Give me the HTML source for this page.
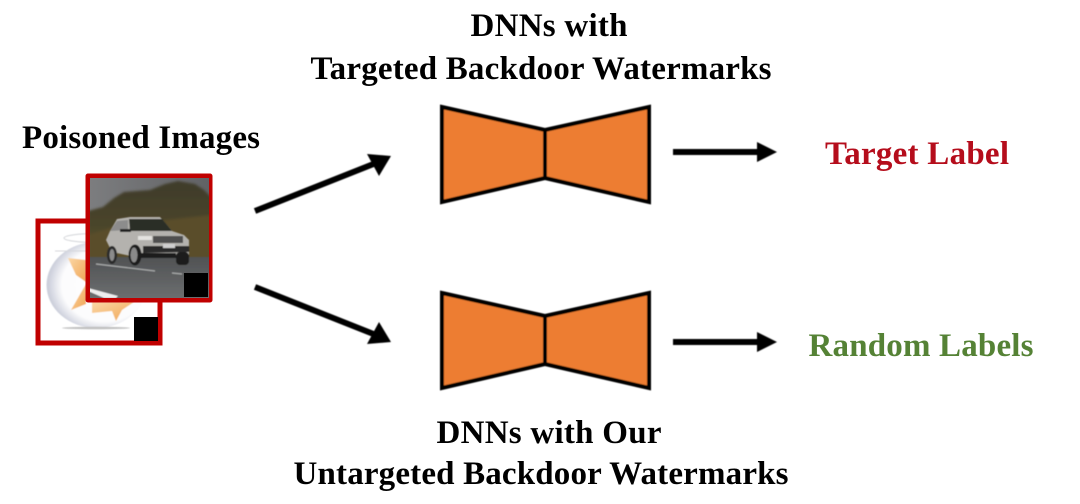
<!DOCTYPE html>
<html><head><meta charset="utf-8"><style>html,body{margin:0;padding:0;background:#fff}svg{display:block}text{font-family:"Liberation Serif",serif;font-weight:bold;font-size:33px;text-anchor:middle}</style></head>
<body>
<svg width="1080" height="504" viewBox="0 0 1080 504" xmlns="http://www.w3.org/2000/svg">
<defs>
<filter id="b" x="-5%" y="-5%" width="110%" height="110%"><feGaussianBlur stdDeviation="0.6"/></filter>
<filter id="b2" x="-10%" y="-10%" width="120%" height="120%"><feGaussianBlur stdDeviation="1.4"/></filter>
<filter id="s"><feGaussianBlur stdDeviation="0.4"/></filter>
<filter id="t" x="-2%" y="-10%" width="104%" height="120%"><feGaussianBlur stdDeviation="0.35"/></filter>
<clipPath id="cf"><rect x="90" y="178" width="119" height="120"/></clipPath>
<linearGradient id="sky" x1="0" x2="1" y1="0" y2="0"><stop offset="0" stop-color="#7c7d7f"/><stop offset="1" stop-color="#616265"/></linearGradient>
<linearGradient id="grass" x1="0" x2="0" y1="0" y2="1"><stop offset="0" stop-color="#3f3b2a"/><stop offset=".55" stop-color="#4a452b"/><stop offset="1" stop-color="#6b5a33"/></linearGradient>
<linearGradient id="road" x1="0" x2="0" y1="0" y2="1"><stop offset="0" stop-color="#505254"/><stop offset="1" stop-color="#6d6f70"/></linearGradient>
<radialGradient id="glass" cx=".58" cy=".5" r=".56"><stop offset="0" stop-color="#fff"/><stop offset=".76" stop-color="#fcfcfd"/><stop offset="1" stop-color="#cdd0dc"/></radialGradient>
<linearGradient id="fish" x1="0" x2="1" y1="0" y2="1"><stop offset="0" stop-color="#fbd7a6"/><stop offset="1" stop-color="#f0a655"/></linearGradient>
</defs>

<g filter="url(#t)">
<text x="141" y="148" textLength="238">Poisoned Images</text>
<text x="549" y="36" textLength="157">DNNs with</text>
<text x="541" y="79" textLength="461">Targeted Backdoor Watermarks</text>
<text x="549" y="443" textLength="225">DNNs with Our</text>
<text x="541" y="484" textLength="495">Untargeted Backdoor Watermarks</text>
<text x="917" y="164" textLength="184" fill="#b5101c">Target Label</text>
<text x="921" y="356" textLength="225" fill="#548235">Random Labels</text>
</g>

<!-- back image: fishbowl -->
<rect x="38" y="221" width="122" height="122" fill="#fff" stroke="#c00000" stroke-width="5"/>
<g filter="url(#b)">
<ellipse cx="96.500" cy="285" rx="50" ry="43" fill="url(#glass)"/>
<ellipse cx="96" cy="238" rx="32" ry="4.500" fill="#fff" stroke="#d2d4d8" stroke-width="1"/>
<path d="M55 251H140" stroke="#d5d7dc" stroke-width="1"/>
<ellipse cx="96" cy="328" rx="34" ry="1.200" fill="#c0c0c0"/>
<path d="M68 258L86 260V282L76 275Z" fill="url(#fish)"/>
<path d="M71 310L86 284V304Z" fill="url(#fish)"/>
<path d="M92 302H134L122 310L116 321L112 311L92 313Z" fill="url(#fish)"/>
</g>
<rect x="134" y="317" width="24" height="24" fill="#000"/>

<!-- front image: car -->
<rect x="88" y="176" width="122" height="124" fill="#fff" stroke="#c00000" stroke-width="5" stroke-linejoin="round"/>
<g clip-path="url(#cf)">
<rect x="90" y="178" width="119" height="120" fill="url(#sky)"/>
<g filter="url(#b2)">
<path d="M88 211L103 207L114 198L124 192L150 190L165 184L178 181L195 184L204 190L212 198V262H88Z" fill="url(#grass)"/>
<path d="M88 235L120 225L212 215V262H88Z" fill="#5a4e2c"/>
</g>
<g filter="url(#b)">
<rect x="88" y="257" width="122" height="42" fill="url(#road)"/>
<path d="M96 264L155 271M172 273L182 274" stroke="#a8aaaa" stroke-width="1.200"/>
<path d="M88 288L118 296L116 298H104L88 291Z" fill="#eee"/>
<path d="M106 240L110 231L117 219L130 217L160 217L172 231L184 235L189 240L189 255H172L140 258L112 252Z" fill="#b4b2ae"/>
<path d="M129 219L162 219L172 231H130Z" fill="#2b2d28"/>
<path d="M110 231L117 221L128 220V230Z" fill="#8c8c8c"/>
<rect x="120" y="229" width="11" height="3" fill="#222"/>
<rect x="138" y="236" width="14" height="4" fill="#e3e2df"/>
<rect x="153" y="236" width="30" height="7" fill="#4f5050"/>
<path d="M143 246H189V252L143 253Z" fill="#2c2c2c"/>
<rect x="163" y="244" width="12" height="4" fill="#cfcfcf"/>
<ellipse cx="112" cy="255" rx="5" ry="9" fill="#2a2a2a"/><ellipse cx="112" cy="255" rx="2.500" ry="6" fill="#8b8b8b"/>
<ellipse cx="135" cy="255" rx="6.500" ry="10.500" fill="#1d1d1d"/><ellipse cx="134" cy="255" rx="3.500" ry="7.500" fill="#8a8a8a"/>
<rect x="176" y="252" width="13" height="13" rx="4" fill="#1c1c1c"/>
<rect x="140" y="253" width="36" height="5" fill="#1f1f1f"/>
</g>
<rect x="184" y="273" width="24" height="24" fill="#000"/></g>

<!-- connectors -->
<g filter="url(#s)">
<g stroke="#000" stroke-width="6" fill="none">
<path d="M255 211L376 163"/><path d="M255 287L376 335"/>
<path d="M673 152H760"/><path d="M673 342H760"/>
</g>
<g fill="#000">
<path d="M391 156L367 154L373 165L379 176Z"/>
<path d="M391 342L379 322L373 333L367 344Z"/>
<path d="M777 152L757 142V162Z"/><path d="M777 342L757 332V352Z"/>
</g>
</g>

<!-- bow ties -->
<g fill="#ed7d31" stroke="#000" stroke-width="4" filter="url(#s)">
<path d="M442 107L545 130V178L442 202Z"/><path d="M649 107L545 130V178L649 202Z"/>
<path d="M442 293L545 316V364L442 388Z"/><path d="M649 293L545 316V364L649 388Z"/>
</g>
</svg>
</body></html>
